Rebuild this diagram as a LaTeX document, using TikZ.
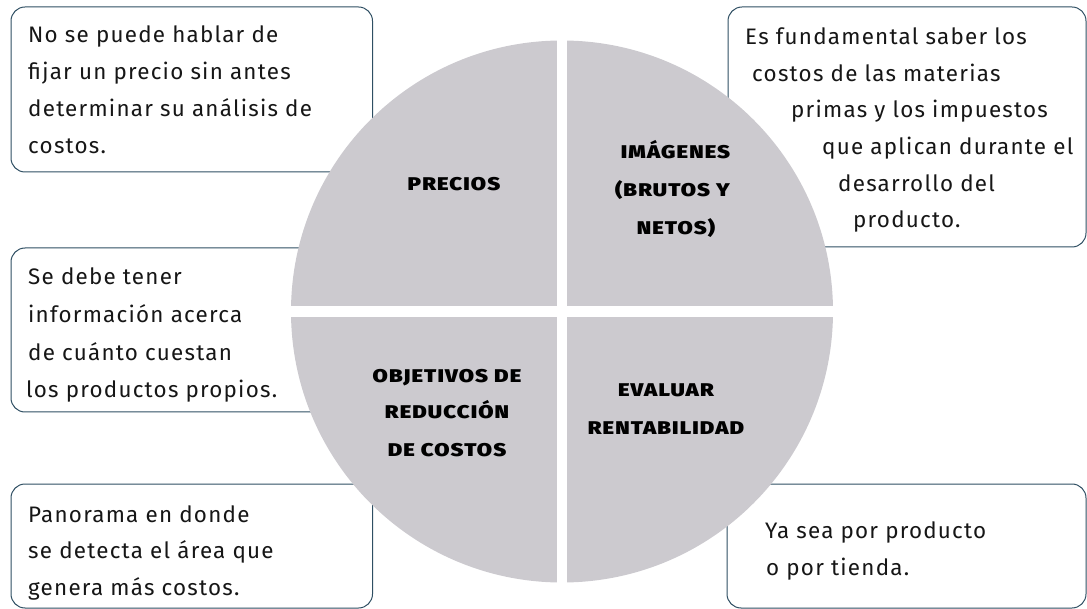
\documentclass[tikz,border=0pt]{standalone}
\usepackage{fontspec}
\setmainfont{Fira Sans}[LetterSpace=5.5]
\IfFontExistsTF{Fira Sans Black}{\newfontfamily\lblfont{Fira Sans Black}[FakeStretch=1.2,LetterSpace=6]}{\newfontfamily\lblfont{Fira Sans Bold}[FakeBold=1.5,FakeStretch=1.2,LetterSpace=6]}
\definecolor{boxc}{RGB}{47,79,99}
\definecolor{pie}{RGB}{204,202,207}
\definecolor{txt}{RGB}{22,22,22}
\tikzset{
  infobox/.style={draw=boxc, line width=1pt, rounded corners=14pt, fill=white},
  bodytext/.style={anchor=base west, font=\fontsize{22.4}{37}\selectfont, text=txt, inner sep=0pt},
  lbl/.style={anchor=base, font=\lblfont\fontsize{18.4}{38}\selectfont, text=black, inner sep=0pt}
}
\begin{document}
\begin{tikzpicture}[x=1pt,y=-1pt]
\useasboundingbox (0,0) rectangle (1087,609);
% boxes
\draw[infobox] (11,7) rectangle (372.5,172);
\draw[infobox] (728,7) rectangle (1086,247);
\draw[infobox] (11,248) rectangle (372.5,412);
\draw[infobox] (11,484) rectangle (372.5,608);
\draw[infobox] (727,484) rectangle (1086,608);
% circle
\coordinate (c) at (562,311.5);
\fill[pie] (c) circle (271);
\begin{scope}
\clip (c) circle (272);
\fill[white] (556.7,30) rectangle (567.3,600);
\fill[white] (280,306) rectangle (850,317);
\end{scope}
% box texts
\node[bodytext] (b1a) at (28,43) {No se puede hablar de};
\node[bodytext] (b1b) at (28,80) {fijar un precio sin antes};
\node[bodytext] (b1c) at (28,117) {determinar su análisis de};
\node[bodytext] (b1d) at (28,154) {costos.};
\node[bodytext] (b2a) at (745,45) {Es fundamental saber los};
\node[bodytext] (b2b) at (752,82) {costos de las materias};
\node[bodytext] (b2c) at (791,118) {primas y los impuestos};
\node[bodytext] (b2d) at (822,155) {que aplican durante el};
\node[bodytext] (b2e) at (838,192) {desarrollo del};
\node[bodytext] (b2f) at (853,228) {producto.};
\node[bodytext] (b3a) at (28,285) {Se debe tener};
\node[bodytext] (b3b) at (28,323) {información acerca};
\node[bodytext] (b3c) at (28,360.5) {de cuánto cuestan};
\node[bodytext] (b3d) at (26,398) {los productos propios.};
\node[bodytext] (b4a) at (28,522) {Panorama en donde};
\node[bodytext] (b4b) at (28,558.5) {se detecta el área que};
\node[bodytext] (b4c) at (28,595) {genera más costos.};
\node[bodytext] (b5a) at (765,538) {Ya sea por producto};
\node[bodytext] (b5b) at (766,575) {o por tienda.};
% labels
\node[lbl] (l1) at (454,191) {PRECIOS};
\node[lbl] (l2a) at (675.5,159) {IMÁGENES};
\node[lbl] (l2b) at (672.5,197) {(BRUTOS Y};
\node[lbl] (l2c) at (676,235) {NETOS)};
\node[lbl] (l3a) at (447,383) {OBJETIVOS DE};
\node[lbl] (l3b) at (447,419) {REDUCCIÓN};
\node[lbl] (l3c) at (447,456) {DE COSTOS};
\node[lbl] (l4a) at (666,397) {EVALUAR};
\node[lbl] (l4b) at (666,435) {RENTABILIDAD};
\end{tikzpicture}
\end{document}
